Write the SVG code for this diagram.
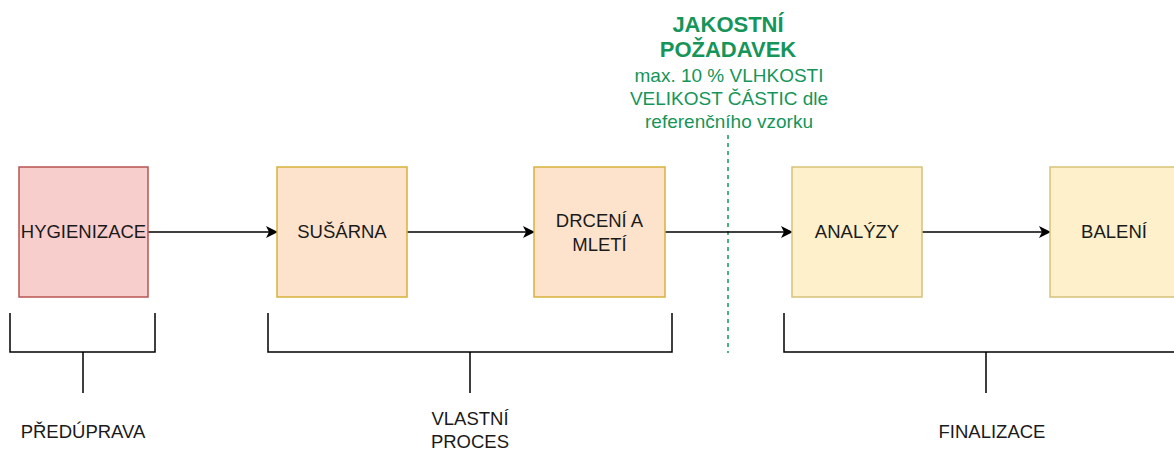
<svg xmlns="http://www.w3.org/2000/svg" width="1174" height="452" viewBox="0 0 1174 452">
  <style>
    .lbl { font-family: "Liberation Sans", Arial, sans-serif; font-size: 18.5px; fill: #1a1a1a; text-anchor: middle; }
    .req { font-family: "Liberation Sans", Arial, sans-serif; fill: #15955a; text-anchor: middle; }
    .req-title { font-size: 22px; font-weight: bold; }
    .req-body { font-size: 19px; }
    .red { fill: #f8cecc; stroke: #b85450; stroke-width: 1.5; }
    .orange { fill: #fde3cc; stroke: #d6b23c; stroke-width: 1.5; }
    .yellow { fill: #fdf0cb; stroke: #d6c27a; stroke-width: 1.5; }
    .flow { stroke: #000; stroke-width: 1.5; fill: none; marker-end: url(#arrow); }
    .brace { stroke: #000; stroke-width: 1.5; fill: none; }
    .limit { stroke: #15955a; stroke-width: 1.5; stroke-dasharray: 4 4; fill: none; }
  </style>
  <defs>
    <marker id="arrow" viewBox="0 0 12 12" refX="11" refY="6" markerWidth="12" markerHeight="12" markerUnits="userSpaceOnUse" orient="auto">
      <path d="M0,0 L12,6 L0,12 L3,6 Z" fill="#000"/>
    </marker>
  </defs>

  <rect width="1174" height="452" fill="#ffffff"/>

  <!-- quality requirement note and boundary -->
  <g id="requirement">
    <text class="req req-title" x="728" y="32">JAKOSTNÍ</text>
    <text class="req req-title" x="728" y="57">POŽADAVEK</text>
    <text class="req req-body" x="729" y="82">max. 10 % VLHKOSTI</text>
    <text class="req req-body" x="729" y="105">VELIKOST ČÁSTIC dle</text>
    <text class="req req-body" x="729" y="128">referenčního vzorku</text>
    <line class="limit" x1="728" y1="135" x2="728" y2="353"/>
  </g>

  <!-- connectors -->
  <g id="connectors">
    <line class="flow" x1="148" y1="232" x2="277" y2="232"/>
    <line class="flow" x1="407" y1="232" x2="534" y2="232"/>
    <line class="flow" x1="665" y1="232" x2="792" y2="232"/>
    <line class="flow" x1="922" y1="232" x2="1050" y2="232"/>
  </g>

  <!-- process steps -->
  <g id="hygienizace">
    <rect class="red" x="19" y="167" width="129" height="130"/>
    <text class="lbl" x="83.5" y="238">HYGIENIZACE</text>
  </g>
  <g id="susarna">
    <rect class="orange" x="277" y="167" width="130" height="130"/>
    <text class="lbl" x="342" y="238">SUŠÁRNA</text>
  </g>
  <g id="drceni">
    <rect class="orange" x="534" y="167" width="131" height="130"/>
    <text class="lbl" x="599.5" y="227">DRCENÍ A</text>
    <text class="lbl" x="599.5" y="251">MLETÍ</text>
  </g>
  <g id="analyzy">
    <rect class="yellow" x="792" y="167" width="130" height="130"/>
    <text class="lbl" x="857" y="238">ANALÝZY</text>
  </g>
  <g id="baleni">
    <rect class="yellow" x="1050" y="167" width="130" height="130"/>
    <text class="lbl" x="1114" y="238">BALENÍ</text>
  </g>

  <!-- phase brackets -->
  <g id="preduprava">
    <path class="brace" d="M10,313 V352 H155 V313 M83,352 V393"/>
    <text class="lbl" x="83" y="438">PŘEDÚPRAVA</text>
  </g>
  <g id="vlastni-proces">
    <path class="brace" d="M268,313 V352 H672 V313 M470,352 V393"/>
    <text class="lbl" x="470" y="425">VLASTNÍ</text>
    <text class="lbl" x="470" y="448">PROCES</text>
  </g>
  <g id="finalizace">
    <path class="brace" d="M784,313 V352 H1180 M986,352 V393"/>
    <text class="lbl" x="992" y="438">FINALIZACE</text>
  </g>
</svg>
